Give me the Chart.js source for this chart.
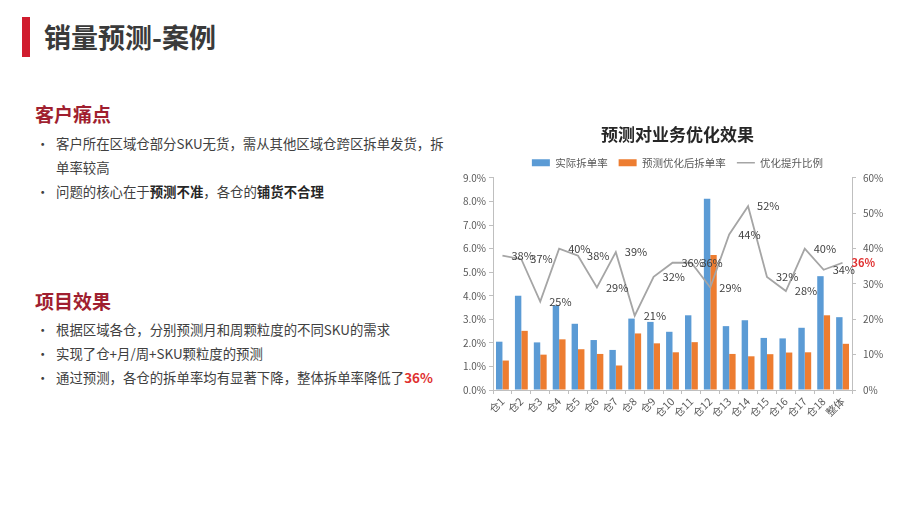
<!DOCTYPE html>
<html lang="zh-CN">
<head>
<meta charset="utf-8">
<title>销量预测-案例</title>
<script src="https://cdn.jsdelivr.net/npm/chart.js@4.4.0/dist/chart.umd.min.js"></script>
<style>
    html, body {
        margin: 0;
        padding: 0;
        background: #fff;
        font-family: "Noto Sans CJK SC", "Noto Sans", sans-serif;
    }
    .slide {
        position: relative;
        width: 920px;
        height: 518px;
        overflow: hidden;
        color: #404040;
    }
    .bar-mark {
        position: absolute;
        left: 22px;
        top: 17px;
        width: 8px;
        height: 40px;
        background: #d01c2e;
    }
    .title {
        position: absolute;
        left: 44px;
        top: 17px;
        font-size: 27px;
        font-weight: bold;
        color: #3a3a3a;
        line-height: 40px;
        margin: 0;
    }
    .section {
        position: absolute;
        left: 35px;
        font-size: 19px;
        font-weight: bold;
        color: #a01f30;
        line-height: 26px;
        margin: 0;
    }
    ul {
        position: absolute;
        left: 0;
        margin: 0;
        padding: 0;
        list-style: none;
        font-size: 13.4px;
        line-height: 24px;
    }
    li {
        position: relative;
        padding-left: 56px;
        white-space: nowrap;
    }
    li::before {
        content: "•";
        position: absolute;
        left: 36px;
    }
    b { color: #262626; }
    .red { color: #e03030; font-weight: bold; }
    #chart-wrap {
        position: absolute;
        left: 445px;
        top: 117px;
        width: 465px;
        height: 310px;
    }
</style>
</head>
<body>
<div class="slide">
    <div class="bar-mark"></div>
    <h1 class="title">销量预测-案例</h1>

    <h2 class="section" style="top:101px">客户痛点</h2>
    <ul style="top:131px">
        <li>客户所在区域仓部分SKU无货，需从其他区域仓跨区拆单发货，拆<br>单率较高</li>
        <li>问题的核心在于<b>预测不准</b>，各仓的<b>铺货不合理</b></li>
    </ul>

    <h2 class="section" style="top:288px">项目效果</h2>
    <ul style="top:317px">
        <li>根据区域各仓，分别预测月和周颗粒度的不同SKU的需求</li>
        <li>实现了仓+月/周+SKU颗粒度的预测</li>
        <li>通过预测，各仓的拆单率均有显著下降，整体拆单率降低了<span class="red">36%</span></li>
    </ul>

    <div id="chart-wrap"><canvas id="chart"></canvas></div>
</div>

<script>
// Daten
const categories = ['仓1', '仓2', '仓3', '仓4', '仓5', '仓6', '仓7', '仓8', '仓9', '仓10',
    '仓11', '仓12', '仓13', '仓14', '仓15', '仓16', '仓17', '仓18', '整体'];
const actualRate = [2.05, 4.0, 2.02, 3.59, 2.81, 2.12, 1.70, 3.03, 2.89, 2.47,
    3.17, 8.11, 2.71, 2.96, 2.21, 2.19, 2.64, 4.83, 3.09];
const optimizedRate = [1.25, 2.51, 1.50, 2.15, 1.73, 1.53, 1.04, 2.40, 1.98, 1.60,
    2.03, 5.73, 1.53, 1.43, 1.52, 1.59, 1.60, 3.17, 1.96];
const improvement = [38, 37, 25, 40, 38, 29, 39, 21, 32, 36,
    36, 29, 44, 52, 32, 28, 40, 34, 36];

const COLORS = {
    actual: '#5b9bd5',
    optimized: '#ed7d31',
    line: '#a5a5a5',
    text: '#595959',
    axis: '#bfbfbf',
    highlight: '#e03030'
};

const FONT = '"Noto Sans CJK SC", "Noto Sans", sans-serif';

// Beschriftungen der Linie (rechts neben den Punkten)
const lineLabels = {
    id: 'lineLabels',
    afterDatasetsDraw(chart) {
        const meta = chart.getDatasetMeta(2);
        const ctx = chart.ctx;
        ctx.save();
        ctx.textAlign = 'left';
        ctx.textBaseline = 'middle';
        meta.data.forEach((pt, i) => {
            const last = i === meta.data.length - 1;
            ctx.font = (last ? 'bold ' : '') + '11px ' + FONT;
            ctx.fillStyle = last ? COLORS.highlight : '#404040';
            ctx.fillText(improvement[i] + '%', pt.x + 9, pt.y);
        });
        ctx.restore();
    }
};

function legendItems(chart) {
    const items = Chart.defaults.plugins.legend.labels.generateLabels(chart);
    items.forEach(item => {
        if (item.datasetIndex === 2) {
            item.pointStyle = 'line';
            item.lineWidth = 1.5;
            item.strokeStyle = COLORS.line;
        } else {
            item.pointStyle = 'rect';
            item.lineWidth = 0;
        }
    });
    return items;
}

function init() {
    const ctx = document.getElementById('chart');
    new Chart(ctx, {
        data: {
            labels: categories,
            datasets: [
                {
                    type: 'bar',
                    label: '实际拆单率',
                    data: actualRate,
                    backgroundColor: COLORS.actual,
                    yAxisID: 'y',
                    categoryPercentage: 0.68,
                    barPercentage: 1,
                    order: 2
                },
                {
                    type: 'bar',
                    label: '预测优化后拆单率',
                    data: optimizedRate,
                    backgroundColor: COLORS.optimized,
                    yAxisID: 'y',
                    categoryPercentage: 0.68,
                    barPercentage: 1,
                    order: 2
                },
                {
                    type: 'line',
                    label: '优化提升比例',
                    data: improvement,
                    borderColor: COLORS.line,
                    backgroundColor: COLORS.line,
                    borderWidth: 1.8,
                    pointRadius: 0,
                    tension: 0,
                    yAxisID: 'y1',
                    order: 1
                }
            ]
        },
        options: {
            responsive: true,
            maintainAspectRatio: false,
            animation: false,
            layout: { padding: 0 },
            plugins: {
                title: {
                    display: true,
                    text: '预测对业务优化效果',
                    color: '#262626',
                    font: { family: FONT, size: 17, weight: 'bold' },
                    padding: { top: 7, bottom: 2 }
                },
                legend: {
                    position: 'top',
                    labels: {
                        usePointStyle: true,
                        pointStyleWidth: 18,
                        boxHeight: 7,
                        color: COLORS.text,
                        font: { family: FONT, size: 10.5 },
                        padding: 11,
                        generateLabels: legendItems,
                        sort: (a, b) => a.datasetIndex - b.datasetIndex
                    }
                },
                tooltip: { enabled: false }
            },
            scales: {
                x: {
                    afterFit: s => { s.height = 37; },
                    grid: { drawOnChartArea: false, tickLength: 4, color: COLORS.axis },
                    border: { color: COLORS.axis },
                    ticks: {
                        color: COLORS.text,
                        font: { family: FONT, size: 10.5 },
                        minRotation: 45,
                        maxRotation: 45,
                        autoSkip: false,
                        padding: 1
                    }
                },
                y: {
                    position: 'left',
                    min: 0,
                    max: 9,
                    afterFit: s => { s.width = 48; },
                    grid: { drawOnChartArea: false, tickLength: 4, color: COLORS.axis },
                    border: { color: COLORS.axis },
                    ticks: {
                        stepSize: 1,
                        color: COLORS.text,
                        font: { family: FONT, size: 10 },
                        callback: v => v.toFixed(1) + '%'
                    }
                },
                y1: {
                    position: 'right',
                    min: 0,
                    max: 60,
                    afterFit: s => { s.width = 58; },
                    grid: { drawOnChartArea: false, tickLength: 4, color: COLORS.axis },
                    border: { color: COLORS.axis },
                    ticks: {
                        stepSize: 10,
                        padding: 7,
                        color: COLORS.text,
                        font: { family: FONT, size: 10 },
                        callback: v => v + '%'
                    }
                }
            }
        },
        plugins: [lineLabels]
    });
}

document.addEventListener('DOMContentLoaded', init);
</script>
</body>
</html>
